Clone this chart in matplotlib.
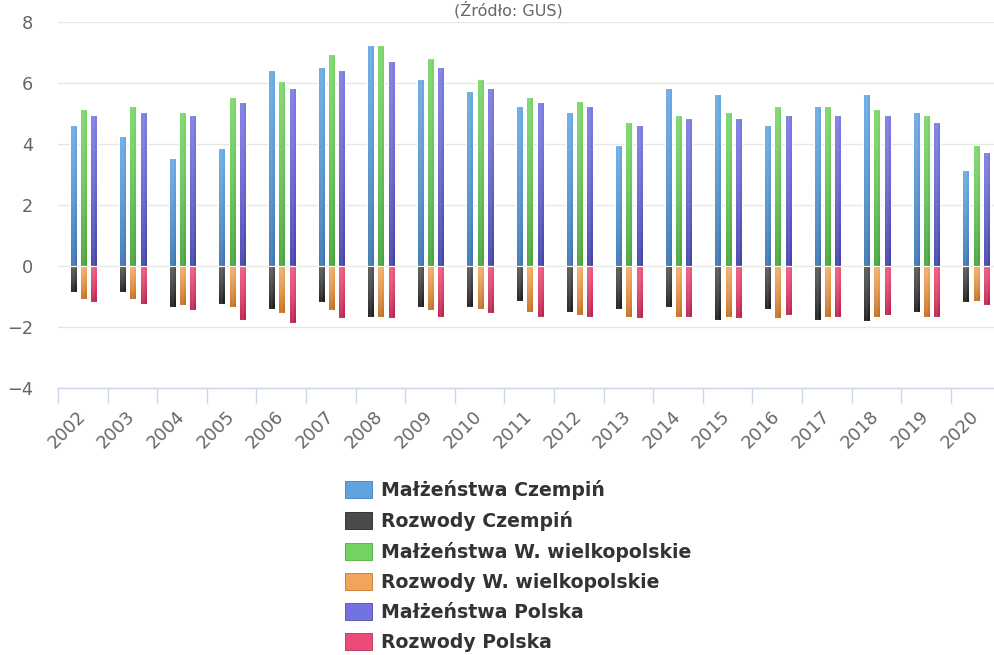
import numpy as np
import matplotlib.pyplot as plt
from matplotlib.patches import Patch
from matplotlib.colors import to_rgb

years = [str(y) for y in range(2002, 2021)]

# per 1000 mieszkańców
malz_czempin = [4.63, 4.27, 3.53, 3.85, 6.41, 6.52, 7.25, 6.14, 5.73, 5.25,
                5.05, 3.95, 5.84, 5.62, 4.63, 5.25, 5.62, 5.05, 3.16]
rozw_czempin = [-0.85, -0.85, -1.33, -1.23, -1.39, -1.17, -1.65, -1.33, -1.33, -1.13,
                -1.49, -1.39, -1.33, -1.76, -1.39, -1.76, -1.80, -1.49, -1.17]
malz_wlkp = [5.15, 5.25, 5.05, 5.52, 6.05, 6.93, 7.25, 6.82, 6.14, 5.52,
             5.41, 4.73, 4.95, 5.05, 5.25, 5.25, 5.15, 4.95, 3.95]
rozw_wlkp = [-1.07, -1.07, -1.28, -1.33, -1.54, -1.44, -1.65, -1.44, -1.39, -1.49,
             -1.60, -1.65, -1.65, -1.65, -1.70, -1.65, -1.65, -1.65, -1.13]
malz_polska = [4.95, 5.05, 4.95, 5.36, 5.84, 6.41, 6.72, 6.52, 5.84, 5.36,
               5.25, 4.63, 4.84, 4.84, 4.95, 4.95, 4.95, 4.73, 3.74]
rozw_polska = [-1.17, -1.23, -1.44, -1.76, -1.86, -1.70, -1.70, -1.65, -1.54, -1.65,
               -1.65, -1.70, -1.65, -1.70, -1.60, -1.65, -1.60, -1.65, -1.28]

labels = ["Małżeństwa Czempiń", "Rozwody Czempiń",
          "Małżeństwa W. wielkopolskie", "Rozwody W. wielkopolskie",
          "Małżeństwa Polska", "Rozwody Polska"]
# (góra, dół) gradientu
colors = [("#5fa3e0", "#2f6cab"), ("#4a4a4a", "#0a0a0a"),
          ("#72d360", "#3a9e2e"), ("#f2a55a", "#c0630f"),
          ("#7272e0", "#3636a3"), ("#ec4a78", "#b3123f")]

fig = plt.figure(figsize=(9.95, 6.55), dpi=100)
W, H = 995, 655
ax = fig.add_axes([58 / W, 266.7 / H, 942.4 / W, 366.6 / H])

x = np.arange(len(years))
offs = [-0.195, 0.01, 0.22]
bw = 0.14
series = [malz_czempin, rozw_czempin, malz_wlkp, rozw_wlkp, malz_polska, rozw_polska]


def gradient_bars(bars, c_top, c_bot):
    t = np.array(to_rgb(c_top))
    b = np.array(to_rgb(c_bot))
    v = np.linspace(0, 1, 60)[:, None, None] ** 1.4
    u = np.linspace(0, 1, 12)[None, :, None]
    img = t * (1 - v) + b * v
    hl = 0.18 * (1 - np.abs(2 * u - 1))
    img = img * (1 - hl) + hl
    img = np.clip(img, 0, 1)
    for r in bars:
        x0, y0, w, h = r.get_x(), r.get_y(), r.get_width(), r.get_height()
        y1, y2 = min(y0, y0 + h), max(y0, y0 + h)
        im = ax.imshow(img, extent=(x0, x0 + w, y1, y2), origin="upper",
                       aspect="auto", zorder=2.5, interpolation="bilinear")
        im.set_clip_path(r)


for i, vals in enumerate(series):
    xs = x + offs[i // 2]
    bars = ax.bar(xs, vals, width=bw, color=colors[i][0], zorder=2)
    gradient_bars(bars, *colors[i])
    ax.bar(xs, vals, width=bw, fill=False, edgecolor="white", linewidth=0.8, zorder=3)

ax.set_xlim(-0.5, len(years) - 0.5)
ax.set_ylim(-4, 8)
ax.set_yticks(np.arange(-4, 9, 2))
ax.set_yticklabels(["\u22124", "\u22122", "0", "2", "4", "6", "8"])
ax.grid(axis="y", color="#e6e6e6", linewidth=1, zorder=0)
ax.set_axisbelow(True)

for s in ["top", "right", "left"]:
    ax.spines[s].set_visible(False)
ax.spines["bottom"].set_color("#ccd6eb")
ax.spines["bottom"].set_linewidth(1)

ax.set_xticks(np.arange(len(years) + 1) - 0.5)
ax.set_xticklabels([])
ax.set_xticks(x, minor=True)
ax.set_xticklabels(years, minor=True, rotation=45, ha="right", va="center",
                   rotation_mode="anchor")
ax.tick_params(axis="x", which="major", length=11, color="#ccd6eb", width=1)
ax.tick_params(axis="x", which="minor", length=0, pad=18, labelsize=12.8,
               labelcolor="#666666")
ax.tick_params(axis="y", length=0, pad=18, labelsize=12.8, labelcolor="#666666")

fig.text(508 / W, 1 - 15 / H, "(Źródło: GUS)", ha="center", va="baseline",
         fontsize=11.5, color="#666666")

handles = [Patch(facecolor=c[0], edgecolor=c[1], linewidth=0.5) for c in colors]
fig.legend(handles, labels, loc="upper left", bbox_to_anchor=(345 / W, 1 - 480 / H),
           frameon=False, borderpad=0, borderaxespad=0, handlelength=1.45,
           handleheight=1.0, handletextpad=0.45, labelspacing=0.58,
           prop={"weight": "bold", "size": 13.6}, labelcolor="#333333")

fig.savefig("out.png", dpi=100)
